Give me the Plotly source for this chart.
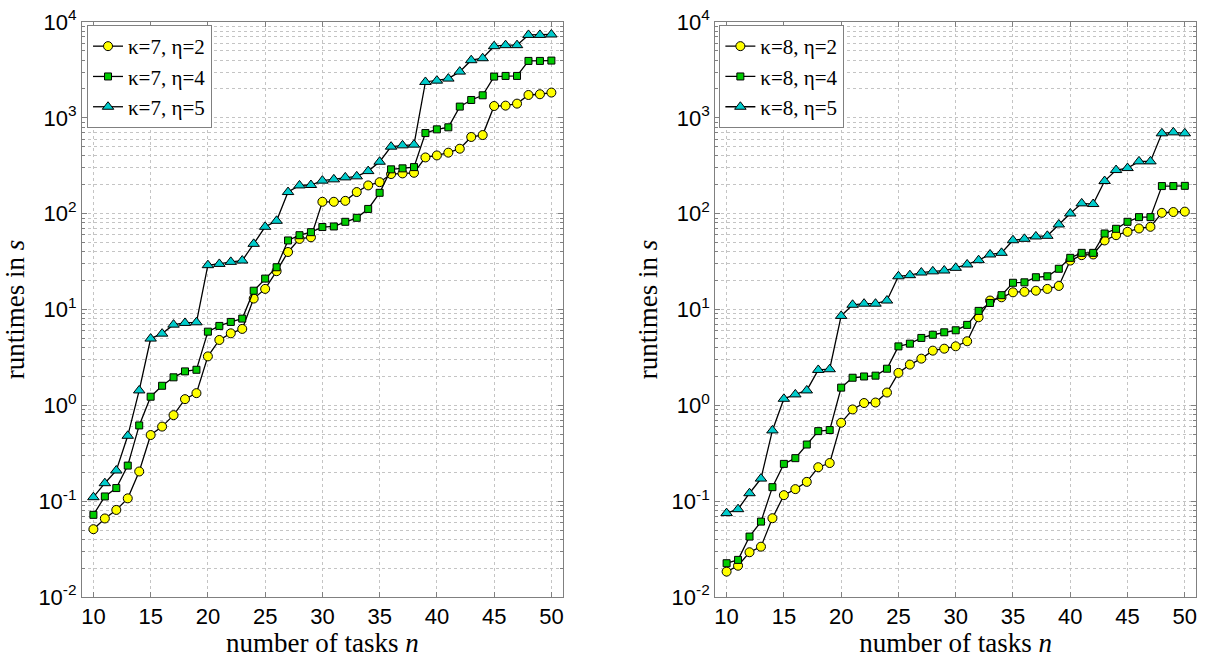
import plotly.graph_objects as go

# number of tasks
n_tasks = list(range(10, 51))

# runtimes in seconds, kappa = 7
k7_eta2 = [0.051, 0.066, 0.081, 0.107, 0.204, 0.49, 0.60, 0.79, 1.16, 1.34,
           3.24, 4.81, 5.64, 6.27, 13.0, 16.4, 25.1, 39.8, 54.5, 56.7,
           133, 133, 136, 168, 197, 213, 259, 263, 267, 386,
           405, 433, 476, 631, 661, 1328, 1340, 1406, 1730, 1762, 1834]
k7_eta4 = [0.072, 0.112, 0.137, 0.235, 0.617, 1.23, 1.60, 1.96, 2.26, 2.35,
           5.87, 6.74, 7.42, 8.03, 15.7, 21.0, 27.6, 52.5, 59.6, 64.1,
           72.5, 73.5, 82.2, 90.5, 112, 165, 290, 297, 306, 693,
           758, 796, 1309, 1535, 1718, 2692, 2736, 2736, 3925, 3925, 3955]
k7_eta5 = [0.110, 0.154, 0.209, 0.481, 1.43, 4.97, 5.60, 6.95, 7.24, 7.35,
           29.0, 29.9, 31.4, 32.4, 48.4, 72.9, 84.2, 168, 197, 199,
           221, 228, 239, 245, 278, 348, 500, 516, 525, 2366,
           2443, 2565, 3034, 3990, 4186, 5588, 5730, 5730, 7330, 7330, 7400]

# runtimes in seconds, kappa = 8
k8_eta2 = [0.0184, 0.0212, 0.0293, 0.0335, 0.0664, 0.1155, 0.1335, 0.159, 0.226, 0.250,
           0.658, 0.906, 1.057, 1.07, 1.36, 2.18, 2.66, 3.07, 3.72, 3.90,
           4.13, 4.66, 8.29, 12.4, 13.4, 15.1, 15.3, 15.7, 16.4, 17.6,
           32.4, 36.9, 37.5, 52.5, 59.6, 64.6, 70.0, 72.9, 102, 104, 105]
k8_eta4 = [0.0225, 0.0244, 0.0427, 0.0612, 0.140, 0.245, 0.281, 0.390, 0.538, 0.552,
           1.53, 1.94, 2.00, 2.04, 2.41, 4.12, 4.40, 5.05, 5.45, 5.78,
           6.07, 6.91, 9.67, 11.7, 14.1, 19.0, 19.2, 21.7, 22.2, 26.6,
           34.6, 39.0, 39.0, 62.1, 69.5, 82.2, 92.0, 92.0, 194, 194, 195]
k8_eta5 = [0.075, 0.0825, 0.121, 0.172, 0.547, 1.17, 1.30, 1.43, 2.34, 2.38,
           8.57, 11.2, 11.5, 11.5, 12.4, 22.2, 22.8, 24.3, 25.0, 25.5,
           27.2, 29.5, 32.7, 37.5, 39.0, 52.8, 54.6, 57.8, 58.7, 77.1,
           100.4, 128, 126, 219, 285, 299, 351, 351, 689, 705, 689]

series_names_k7 = ["κ=7, η=2", "κ=7, η=4", "κ=7, η=5"]
series_names_k8 = ["κ=8, η=2", "κ=8, η=4", "κ=8, η=5"]

x_ticks = [10, 15, 20, 25, 30, 35, 40, 45, 50]
y_decades = [0.01, 0.1, 1, 10, 100, 1000, 10000]
y_ticktext = ["10<sup>-2</sup>", "10<sup>-1</sup>", "10<sup>0</sup>", "10<sup>1</sup>",
              "10<sup>2</sup>", "10<sup>3</sup>", "10<sup>4</sup>"]
# minor log ticks at 2..9 within each decade
y_minor = [m * d for d in y_decades[:-1] for m in range(2, 10)]

styles = [
    dict(symbol="circle", size=9, color="#ffff00"),
    dict(symbol="square", size=7, color="#00cc00"),
    dict(symbol="triangle-up", size=10, color="#00cccc"),
]

fig = go.Figure()

def add_panel(series, names, xref, yref, legend):
    for vals, name, st in zip(series, names, styles):
        fig.add_trace(go.Scatter(
            x=n_tasks, y=vals, name=name, mode="lines+markers",
            xaxis=xref, yaxis=yref, legend=legend,
            line=dict(color="black", width=1.3),
            marker=dict(symbol=st["symbol"], size=st["size"], color=st["color"],
                        line=dict(color="black", width=1)),
        ))

add_panel([k7_eta2, k7_eta4, k7_eta5], series_names_k7, "x", "y", "legend")
add_panel([k8_eta2, k8_eta4, k8_eta5], series_names_k8, "x2", "y2", "legend2")

grid_col = "#c4c4c4"
frame_col = "#808080"
tick_font = dict(family="Liberation Sans, Arial, sans-serif", size=22, color="black")
title_font = dict(family="Liberation Serif, Times New Roman, serif", size=27, color="black")

def xaxis_cfg(domain, anchor):
    return dict(
        domain=domain, anchor=anchor, range=[9, 51], automargin=False,
        tickvals=x_ticks, ticks="inside", ticklen=5, tickcolor=frame_col,
        showline=True, linecolor=frame_col, linewidth=1, mirror="allticks",
        showgrid=True, gridcolor=grid_col, griddash="dot", gridwidth=1,
        zeroline=False, tickfont=tick_font,
        title=dict(text="number of tasks <i>n</i>", font=title_font, standoff=4),
    )

def yaxis_cfg(anchor):
    return dict(
        domain=[0.0927, 0.9666], anchor=anchor, type="log", range=[-2, 4],
        automargin=False,
        tickvals=y_decades, ticktext=y_ticktext,
        ticks="inside", ticklen=5, tickcolor=frame_col,
        showline=True, linecolor=frame_col, linewidth=1, mirror="allticks",
        showgrid=True, gridcolor=grid_col, griddash="dot", gridwidth=1,
        minor=dict(tickmode="array", tickvals=y_minor,
                   ticks="inside", ticklen=3, tickcolor=frame_col,
                   showgrid=True, gridcolor=grid_col, griddash="dot", gridwidth=1),
        zeroline=False, tickfont=tick_font,
        title=dict(text="runtimes in <i>s</i>", font=title_font, standoff=6),
    )

legend_common = dict(
    bgcolor="white", bordercolor=frame_col, borderwidth=1,
    font=dict(family="Liberation Serif, Times New Roman, serif", size=21, color="black"),
    xanchor="left", yanchor="top", tracegroupgap=0, itemwidth=30,
)

fig.update_layout(
    width=1207, height=658,
    margin=dict(l=0, r=0, t=0, b=0, autoexpand=False),
    paper_bgcolor="white", plot_bgcolor="white",
    showlegend=True,
    xaxis=xaxis_cfg([0.0679, 0.4663], "y"),
    yaxis=yaxis_cfg("x"),
    xaxis2=xaxis_cfg([0.5925, 0.9911], "y2"),
    yaxis2=yaxis_cfg("x2"),
    legend=dict(x=0.0721, y=0.962, **legend_common),
    legend2=dict(x=0.596, y=0.962, **legend_common),
)

fig.write_html("out.html")
